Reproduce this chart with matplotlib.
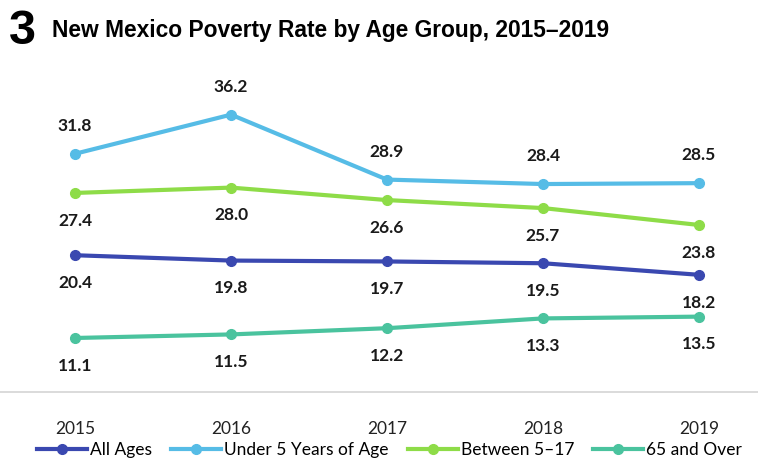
import matplotlib.pyplot as plt

years = [2015, 2016, 2017, 2018, 2019]
all_ages = [20.4, 19.8, 19.7, 19.5, 18.2]
under5 = [31.8, 36.2, 28.9, 28.4, 28.5]
age5_17 = [27.4, 28.0, 26.6, 25.7, 23.8]
over65 = [11.1, 11.5, 12.2, 13.3, 13.5]

series = [
    ("All Ages", all_ages, "#3a48b0", -1),
    ("Under 5 Years of Age", under5, "#56bce6", 1),
    ("Between 5\u201317", age5_17, "#8edc48", -1),
    ("65 and Over", over65, "#4ac39e", -1),
]

fig = plt.figure(figsize=(7.58, 4.62), dpi=100)
ax = fig.add_axes([0, 70 / 462, 1, 332 / 462])

for name, vals, col, side in series:
    ax.plot(years, vals, color=col, lw=3, marker="o", ms=7, label=name)
    for x, v in zip(years, vals):
        ax.annotate(f"{v:.1f}", (x, v), xytext=(0, 20 * side), textcoords="offset points",
                    ha="center", va="center", fontsize=12.5, fontweight="bold",
                    family="Lato", color="#1a1a1a")

ax.set_xlim(2015 - 75 / 156, 2019 + 59 / 156)
ax.set_ylim(5.03, 42.34)
for s in ["top", "left", "right"]:
    ax.spines[s].set_visible(False)
ax.spines["bottom"].set_color("#d4d4d4")
ax.spines["bottom"].set_linewidth(1.2)
ax.set_yticks([])
ax.set_xticks(years)
ax.set_xticklabels([str(y) for y in years], fontsize=12.5, family="Lato", color="#222222")
ax.tick_params(axis="x", length=0, pad=21)

fig.text(0.012, 1 - 32 / 462, "3", fontsize=35, fontweight="bold", family="Liberation Sans",
         va="center", ha="left")
fig.text(0.069, 1 - 30 / 462, "New Mexico Poverty Rate by Age Group, 2015\u20132019", fontsize=16.4,
         fontweight="bold", family="Liberation Sans", va="center", ha="left")

leg = fig.legend(loc="center left", bbox_to_anchor=(37 / 758, 1 - 450 / 462), ncol=4, frameon=False,
                 prop={"family": "Lato", "size": 12.5}, handlelength=2.9,
                 handletextpad=0.15, columnspacing=1.1, borderaxespad=0, borderpad=0)

fig.savefig("out.png", dpi=100)
